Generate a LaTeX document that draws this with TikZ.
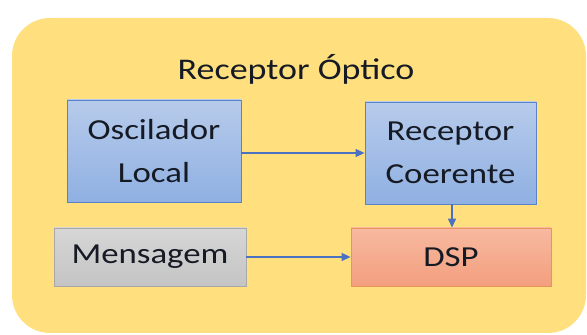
\documentclass[tikz,border=0pt]{standalone}
\usepackage{fontspec}
\setmainfont{Carlito}[FakeStretch=1.2]
\usetikzlibrary{arrows.meta}
\definecolor{outerfill}{HTML}{FFDF7E}
\definecolor{bluetop}{HTML}{B7CBEB}
\definecolor{bluebot}{HTML}{8FB0E2}
\definecolor{blueline}{HTML}{5B84C8}
\definecolor{graytop}{HTML}{D6D6D6}
\definecolor{graybot}{HTML}{C4C4C4}
\definecolor{grayline}{HTML}{A8A8A8}
\definecolor{redtop}{HTML}{F7B9A0}
\definecolor{redbot}{HTML}{F39F7E}
\definecolor{redline}{HTML}{E8945E}
\definecolor{arrowcol}{HTML}{4A72C0}
\definecolor{txt}{HTML}{151A24}
\tikzset{
  blk/.style={draw, line width=0.8pt, inner sep=0pt, text=txt, align=center,
    font=\fontsize{29}{43}\selectfont, shading=axis, shading angle=0},
  bluebox/.style={blk, draw=blueline, top color=bluetop, bottom color=bluebot},
  graybox/.style={blk, draw=grayline, top color=graytop, bottom color=graybot},
  redbox/.style={blk, draw=redline, top color=redtop, bottom color=redbot},
  conn/.style={draw=arrowcol, line width=1.2pt, -{Triangle[width=8pt,length=9pt]}},
}
\begin{document}
\begin{tikzpicture}[x=1pt,y=1pt]
\fill[white] (0,0) rectangle (587,335);
\useasboundingbox (0,0) rectangle (587,335);
\fill[outerfill, rounded corners=38pt] (12,2) rectangle (586,317);
\node[text=txt, font=\fontsize{30}{36}\selectfont] (title) at (296,266) {Receptor Óptico};
\node[bluebox, minimum width=174pt, minimum height=102pt] (osc) at (154,184) {Oscilador\\Local};
\node[bluebox, minimum width=171pt, minimum height=102pt] (rec) at (450.5,182) {Receptor\\Coerente};
\node[graybox, minimum width=192pt, minimum height=58pt] (msg) at (150,78) {Mensagem};
\node[redbox, minimum width=200pt, minimum height=58pt] (dsp) at (451,78) {DSP};
\draw[conn] (osc.east |- 0,182) -- (rec.west |- 0,182);
\draw[conn] (rec.south -| 452,0) -- (dsp.north -| 452,0);
\draw[conn] (msg.east) -- (dsp.west);
\end{tikzpicture}
\end{document}
